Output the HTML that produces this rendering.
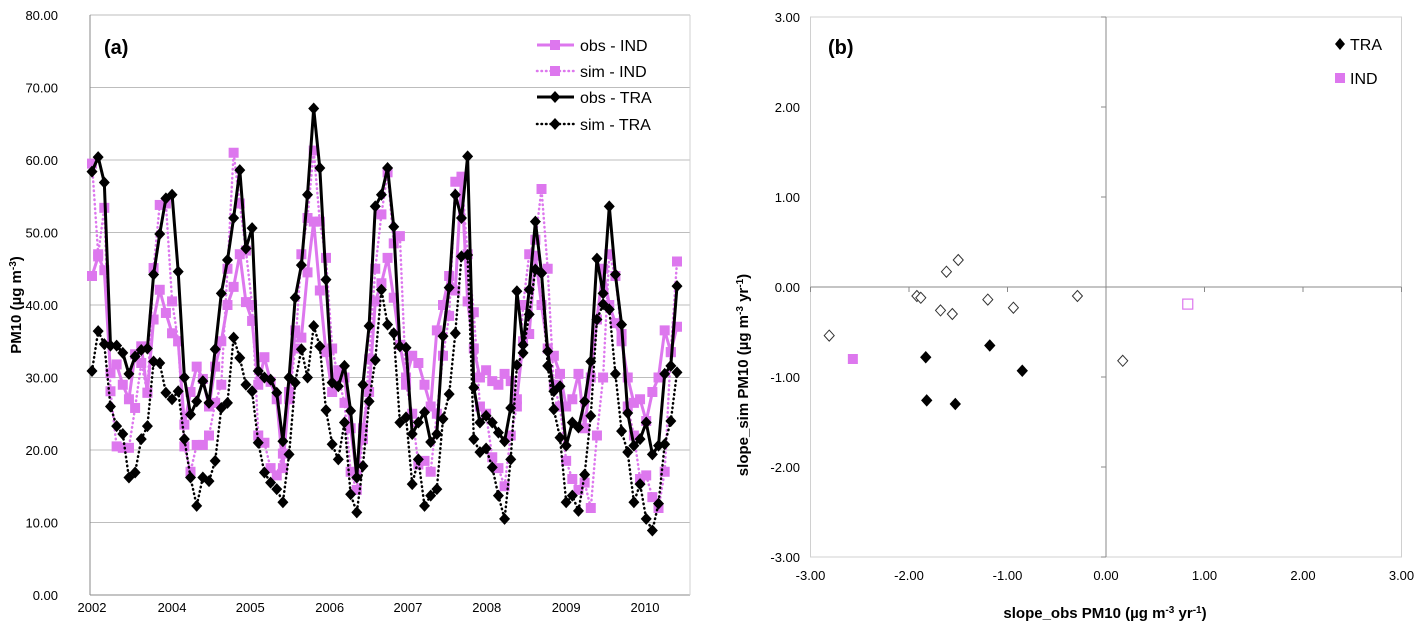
<!DOCTYPE html>
<html><head><meta charset="utf-8"><style>
html,body{margin:0;padding:0;background:#fff;}
svg{display:block;font-family:"Liberation Sans",sans-serif;}
</style></head><body>
<svg id="chart" width="1424" height="624" viewBox="0 0 1424 624" xmlns="http://www.w3.org/2000/svg">
<g id="left"></g>
<g id="right"></g>
</svg>
<script>
// ---- panel (a) data ----
const yTicksA = [0,10,20,30,40,50,60,70,80];
const xTickLabels = ["2002","2004","2005","2006","2007","2008","2009","2010"];
const xTickIndex = [0,13,25.7,38.6,51.3,64.1,77,89.8];
const obsTRA = [58.4,60.4,56.9,34.4,34.4,33.4,30.5,32.9,33.8,34,44.2,49.8,54.7,55.2,44.6,30,24.9,26.7,29.5,26.5,33.9,41.6,46.2,52,58.6,47.8,50.6,30.9,30,29.7,27.9,21.2,30,41,45.5,55.2,67.1,58.9,43.5,29.3,28.8,31.6,25.4,16.2,29,37.1,53.6,
55.2,58.9,50.8,34.3,34.1,22.2,23.8,25.2,21.1,22.2,35.7,42.4,55.2,52,60.5,28.6,23.8,24.7,23.8,22.4,21.2,25.8,41.9,34.5,42.1,51.5,44.4,33.6,28.1,28.8,20.6,23.8,23.1,26.7,32.2,46.4,41.6,53.6,44.2,37.3,25.1,20.6,21.5,23.8,19.4,20.6,30.5,31.6,42.6];
const simTRA = [30.9,36.4,34.6,26,23.3,22.2,16.2,16.9,21.5,23.3,32.2,32,27.9,27,28.1,21.5,16.2,12.3,16.2,15.7,18.5,25.8,26.5,35.5,32.7,29,28.1,21,16.9,15.5,14.6,12.8,19.4,29.3,33.9,30,37.1,34.3,25.5,20.8,18.7,23.8,13.9,11.4,17.8,26.7,32.4,
42.1,37.3,36.1,23.8,24.5,15.3,18.7,12.3,13.7,14.6,24.3,27.7,36.1,46.7,46.9,21.5,19.7,20.2,17.6,13.7,10.5,18.7,31.7,33.4,38.7,44.9,44.4,31.6,25.6,21.7,12.8,13.7,11.6,16.6,24.7,38,40.1,39.4,30.5,22.6,19.7,12.8,15.3,10.5,8.9,12.6,20.8,24,30.7];
const obsIND = [44,46.7,44.8,30.6,31.8,29,27,33.2,34.3,27.9,38,42.1, 38.9,36.1,35,23.5,28,31.5,29.8,26,31.5,35,40,42.5, 47,40.4,37.8,29,32.8,29.4,27,17.5,28,36.5,35.5,44.5, 51.5,42,33.5,28,31,30,23,16.5,23,28,40.5,43, 46.5,41,34.5,30,33,32,29,26,36.5,40,44,42, 57.5,40.5,34,30,31,29.5,29,30.5,29.5,27,35,36, 46.8,40,34,33,30.5,26,27,30.5,23,30,38,45, 40,37.5,35,30,26.5,27,24,28,30,36.5,33.5,37];
const simIND = [59.5,47,53.4,28.1,20.5,20.3,20.3,25.8,32,27.9,45.1,53.8, 54,40.5,35,20.5,17,20.7,20.7,22,26.5,29,45,61, 54,47.5,40,22,21,17.5,16.5,19.5,27,34,47,52, 61.3,51.5,46.5,34,30,26.5,17,14.5,21.5,32.5,45,52.5, 58.3,48.5,49.5,29,25,18,18.5,17,25,33,38.5,57, 57.7,47,39,26,25,19,17.5,15,22,26,40,47, 49,56,45,29,26,18.5,16,14.5,15.5,12,22,30, 47,44,36,26,22,16,16.5,13.5,12,17,33.5,46];
// ---- panel (b) data ----
const bTicks = [-3,-2,-1,0,1,2,3];
const traOpenX = [-2.81,-1.92,-1.88,-1.62,-1.5,-1.68,-1.56,-1.2,-0.94,-0.29,0.17];
const traOpenY = [-0.54,-0.1,-0.12,0.17,0.3,-0.26,-0.3,-0.14,-0.23,-0.1,-0.82];
const traFillX = [-1.83,-1.18,-0.85,-1.82,-1.53];
const traFillY = [-0.78,-0.65,-0.93,-1.26,-1.3];
const indFillX = [-2.57];
const indFillY = [-0.8];
const indOpenX = [0.83];
const indOpenY = [-0.19];

const NS="http://www.w3.org/2000/svg";
function mk(parent,tag,attrs,text){const e=document.createElementNS(NS,tag);for(const k in attrs)e.setAttribute(k,attrs[k]);if(text!==undefined)e.textContent=text;parent.appendChild(e);return e;}
const PINK="#dd77ee";

// ===== panel a =====
const L=document.getElementById('left');
const ax={x0:90,x1:690,y0:595,y1:15,ymax:80};
const n=obsTRA.length;
const xA=i=>92+i*(677-92)/(n-1);
const yA=v=>ax.y0-(v/ax.ymax)*(ax.y0-ax.y1);
yTicksA.forEach(t=>{
  const g=mk(L,'line',{x1:ax.x0,x2:ax.x1,y1:yA(t),y2:yA(t),stroke:t===0?'#888':'#bdbdbd','stroke-width':1});
  
  
  const tx=mk(L,'text',{x:58,y:yA(t)+5,'text-anchor':'end','font-size':13,fill:'#000'},t.toFixed(2));
  
  
});
mk(L,'line',{x1:ax.x0,x2:ax.x0,y1:ax.y1,y2:ax.y0,stroke:'#888','stroke-width':1});
mk(L,'line',{x1:ax.x1,x2:ax.x1,y1:ax.y1,y2:ax.y0,stroke:'#d0d0d0','stroke-width':1});
xTickLabels.forEach((lab,i)=>{
  const tx=mk(L,'text',{x:xA(xTickIndex[i]),y:612,'text-anchor':'middle','font-size':13},lab);
  
  
});
const yt=mk(L,'text',{x:0,y:0,'font-size':15,'font-weight':'bold',transform:'translate(21,305) rotate(-90)','text-anchor':'middle'});


yt.innerHTML='PM10 (µg m<tspan dy="-5" font-size="10">-3</tspan><tspan dy="5">)</tspan>';
const pa=mk(L,'text',{x:104,y:54,'font-size':20,'font-weight':'bold'},'(a)');



function series(arr,color,dotted,marker,name){
  const g=mk(L,'g',{});
  
  
  const pts=arr.map((v,i)=>xA(i).toFixed(1)+','+yA(v).toFixed(1)).join(' ');
  const attrs={points:pts,fill:'none',stroke:color,'stroke-width':dotted?2.5:3,'stroke-linejoin':'round'};
  if(dotted){attrs['stroke-dasharray']='0.5,4';attrs['stroke-linecap']='round';}
  mk(g,'polyline',attrs);
  arr.forEach((v,i)=>drawMarker(g,marker,xA(i),yA(v),color));
}
function drawMarker(g,marker,x,y,color,s){
  s=s||5;
  if(marker==='sq') mk(g,'rect',{x:x-s,y:y-s,width:2*s,height:2*s,fill:color});
  else mk(g,'polygon',{points:`${x},${y-s-1} ${x+s+0.5},${y} ${x},${y+s+1} ${x-s-0.5},${y}`,fill:color});
}
series(simIND,PINK,true,'sq','series-sim-ind');
series(obsIND,PINK,false,'sq','series-obs-ind');
series(simTRA,'#000',true,'dm','series-sim-tra');
series(obsTRA,'#000',false,'dm','series-obs-tra');

const leg=[['obs - IND',PINK,false,'sq',45],['sim - IND',PINK,true,'sq',71],['obs - TRA','#000',false,'dm',97],['sim - TRA','#000',true,'dm',124]];
leg.forEach(l=>{
  const g=mk(L,'g',{});
  
  
  const a={x1:537,x2:574,y1:l[4],y2:l[4],stroke:l[1],'stroke-width':l[2]?2.5:3};
  if(l[2]){a['stroke-dasharray']='0.5,4';a['stroke-linecap']='round';}
  mk(g,'line',a);
  drawMarker(g,l[3],555,l[4],l[1]);
  mk(g,'text',{x:580,y:l[4]+6,'font-size':16},l[0]);
});

// ===== panel b =====
const R=document.getElementById('right');
const bx=v=>1106+v*98.5;
const by=v=>287-v*90;
mk(R,'rect',{x:bx(-3),y:by(3),width:bx(3)-bx(-3),height:by(-3)-by(3),fill:'none',stroke:'#d0d0d0','stroke-width':1});
mk(R,'line',{x1:bx(0),x2:bx(0),y1:by(3),y2:by(-3),stroke:'#888','stroke-width':1});
mk(R,'line',{x1:bx(-3),x2:bx(3),y1:by(0),y2:by(0),stroke:'#888','stroke-width':1});
bTicks.forEach(t=>{
  mk(R,'line',{x1:bx(t),x2:bx(t),y1:by(0),y2:by(0)+5,stroke:'#888'});
  mk(R,'line',{x1:bx(0)-5,x2:bx(0),y1:by(t),y2:by(t),stroke:'#888'});
  const xl=mk(R,'text',{x:bx(t),y:580,'text-anchor':'middle','font-size':13},t.toFixed(2));
  
  
  const yl=mk(R,'text',{x:800,y:by(t)+5,'text-anchor':'end','font-size':13},t.toFixed(2));
  
  
});
const bxt=mk(R,'text',{x:1105,y:618,'text-anchor':'middle','font-size':15,'font-weight':'bold'});


bxt.innerHTML='slope_obs PM10 (µg m<tspan dy="-5" font-size="10">-3</tspan><tspan dy="5"> yr</tspan><tspan dy="-5" font-size="10">-1</tspan><tspan dy="5">)</tspan>';
const byt=mk(R,'text',{x:0,y:0,'font-size':15,'font-weight':'bold','text-anchor':'middle',transform:'translate(748,375) rotate(-90)'});


byt.innerHTML='slope_sim PM10 (µg m<tspan dy="-5" font-size="10">-3</tspan><tspan dy="5"> yr</tspan><tspan dy="-5" font-size="10">-1</tspan><tspan dy="5">)</tspan>';
const pb=mk(R,'text',{x:828,y:54,'font-size':20,'font-weight':'bold'},'(b)');



function dia(x,y,fill,stroke){
  const p=mk(R,'polygon',{points:`${x},${y-5.5} ${x+5},${y} ${x},${y+5.5} ${x-5},${y}`,fill:fill,stroke:stroke,'stroke-width':1});
  return p;
}
traOpenX.forEach((v,i)=>{
  const p=dia(bx(v),by(traOpenY[i]),'#fff','#333');
  
  
});
traFillX.forEach((v,i)=>{
  const p=dia(bx(v),by(traFillY[i]),'#000','#000');
  
  
});
indFillX.forEach((v,i)=>{
  const p=mk(R,'rect',{x:bx(v)-5,y:by(indFillY[i])-5,width:10,height:10,fill:PINK});
  
  
});
indOpenX.forEach((v,i)=>{
  const p=mk(R,'rect',{x:bx(v)-5,y:by(indOpenY[i])-5,width:10,height:10,fill:'#fff',stroke:PINK,'stroke-width':1.2});
  
  
});
const lg1=mk(R,'g',{});


mk(lg1,'polygon',{points:'1340,38 1345,44 1340,50 1335,44',fill:'#000'});
mk(lg1,'text',{x:1350,y:50,'font-size':16},'TRA');
const lg2=mk(R,'g',{});


mk(lg2,'rect',{x:1335,y:73,width:10,height:10,fill:PINK});
mk(lg2,'text',{x:1350,y:84,'font-size':16},'IND');
</script>
</body></html>
